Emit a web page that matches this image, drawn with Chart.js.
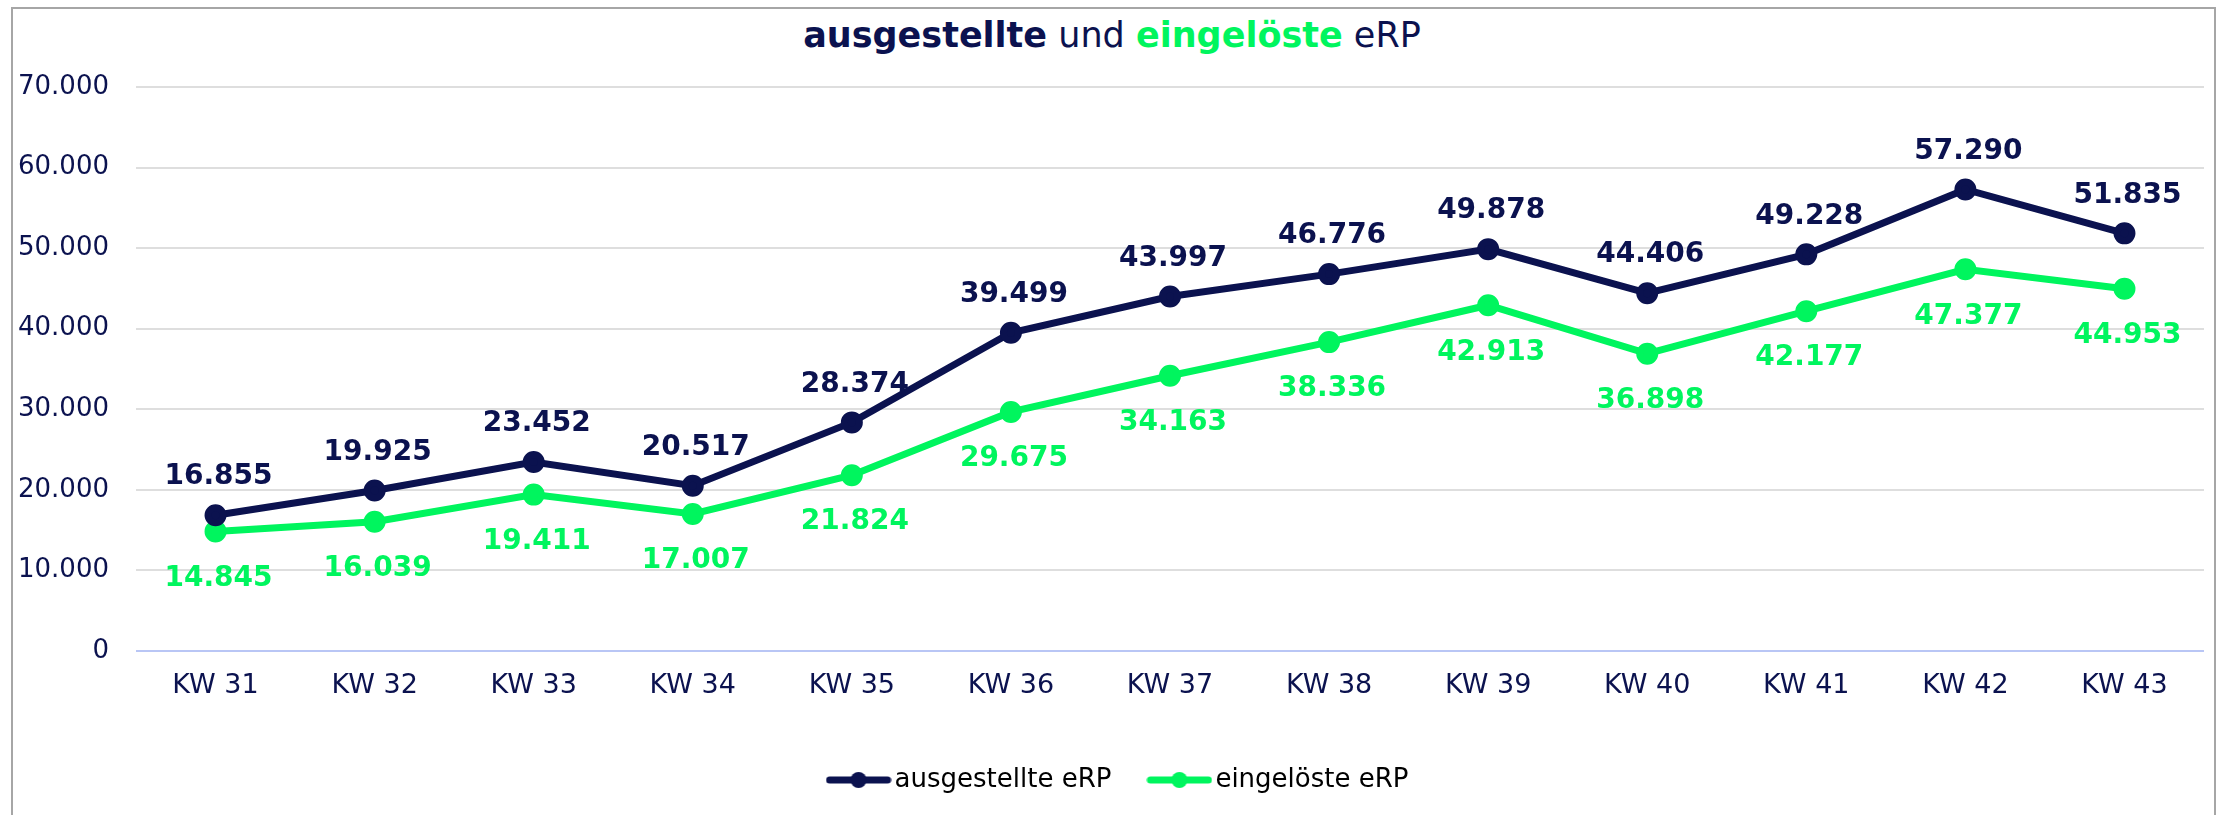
<!DOCTYPE html>
<html>
<head>
<meta charset="utf-8">
<script src="https://cdn.jsdelivr.net/npm/chart.js@4/dist/chart.umd.min.js"></script>
<style>
    html, body { margin: 0; padding: 0; background: #fff; }
    #wrap { position: relative; width: 2224px; height: 815px; overflow: hidden; }
    #frame {
        position: absolute; left: 11px; top: 7px; width: 2205px; height: 900px;
        border: 2px solid #a6a6a6; box-sizing: border-box;
    }
    #title {
        position: absolute; left: 0; top: 14px; width: 2224px; text-align: center;
        font-family: "DejaVu Sans", Verdana, sans-serif; font-size: 35px; line-height: 42px;
        color: #0b124f;
    }
    #title .b { font-weight: bold; }
    #title .g { color: #00f55e; }
    #chartBox { position: absolute; left: 0; top: 0; width: 2224px; height: 815px; }
</style>
</head>
<body>
<div id="wrap">
    <div id="frame"></div>
    <div id="title"><span class="b">ausgestellte</span> und <span class="b g">eingelöste</span> eRP</div>
    <div id="chartBox"><canvas id="erpChart"></canvas></div>
</div>
<script>
// Data
const weeks = ['KW 31', 'KW 32', 'KW 33', 'KW 34', 'KW 35', 'KW 36', 'KW 37',
    'KW 38', 'KW 39', 'KW 40', 'KW 41', 'KW 42', 'KW 43'];
const issued = [16855, 19925, 23452, 20517, 28374, 39499, 43997, 46776, 49878, 44406, 49228, 57290, 51835];
const redeemed = [14845, 16039, 19411, 17007, 21824, 29675, 34163, 38336, 42913, 36898, 42177, 47377, 44953];
const yTicks = [0, 10000, 20000, 30000, 40000, 50000, 60000, 70000];

const navy = '#0b124f';
const green = '#00f55e';
const fontFamily = '"DejaVu Sans", Verdana, sans-serif';

// German thousands separator
function fmt(v) {
    return String(v).replace(/\B(?=(\d{3})+(?!\d))/g, '.');
}

// Legend marker: line with a dot in the middle
function legendMarker(color) {
    const c = document.createElement('canvas');
    c.width = 66;
    c.height = 18;
    const ctx = c.getContext('2d');
    ctx.strokeStyle = color;
    ctx.lineWidth = 7;
    ctx.lineCap = 'round';
    ctx.beginPath();
    ctx.moveTo(4, 9);
    ctx.lineTo(62, 9);
    ctx.stroke();
    ctx.fillStyle = color;
    ctx.beginPath();
    ctx.arc(33, 9, 8, 0, Math.PI * 2);
    ctx.fill();
    return c;
}

// Value labels: navy above, green below
const valueLabels = {
    id: 'valueLabels',
    afterDatasetsDraw(chart) {
        const ctx = chart.ctx;
        ctx.save();
        ctx.font = 'bold 28px ' + fontFamily;
        ctx.textAlign = 'center';
        ctx.textBaseline = 'middle';
        chart.data.datasets.forEach((ds, i) => {
            const meta = chart.getDatasetMeta(i);
            ctx.fillStyle = ds.borderColor;
            meta.data.forEach((pt, j) => {
                const dy = i === 0 ? -38 : 47;
                ctx.fillText(fmt(ds.data[j]), pt.x + 3, pt.y + dy);
            });
        });
        ctx.restore();
    }
};

// Nudge the legend a little to the right, as in the original
const legendShift = {
    id: 'legendShift',
    afterLayout(chart) {
        if (chart.legend) {
            chart.legend.left += 20;
            chart.legend.right += 20;
        }
    }
};

document.addEventListener('DOMContentLoaded', function() {
    const ctx = document.getElementById('erpChart').getContext('2d');
    new Chart(ctx, {
        type: 'line',
        data: {
            labels: weeks,
            datasets: [{
                label: 'ausgestellte eRP',
                data: issued,
                borderColor: navy,
                backgroundColor: navy,
                borderWidth: 7,
                pointRadius: 7.5,
                pointHoverRadius: 7.5,
                tension: 0
            }, {
                label: 'eingelöste eRP',
                data: redeemed,
                borderColor: green,
                backgroundColor: green,
                borderWidth: 7,
                pointRadius: 7.5,
                pointHoverRadius: 7.5,
                tension: 0
            }]
        },
        options: {
            responsive: true,
            maintainAspectRatio: false,
            animation: false,
            layout: {
                padding: { top: 87, right: 20, bottom: 12, left: 0 }
            },
            plugins: {
                title: { display: false },
                tooltip: { enabled: false },
                legend: {
                    position: 'bottom',
                    labels: {
                        usePointStyle: true,
                        pointStyleWidth: 46,
                        padding: 45,
                        color: '#000',
                        font: { family: fontFamily, size: 26 },
                        generateLabels(chart) {
                            const items = Chart.defaults.plugins.legend.labels.generateLabels(chart);
                            items.forEach((it, i) => {
                                it.pointStyle = legendMarker(chart.data.datasets[i].borderColor);
                            });
                            return items;
                        }
                    }
                }
            },
            scales: {
                x: {
                    offset: true,
                    grid: { display: false, drawTicks: false },
                    border: { display: false },
                    ticks: {
                        color: navy,
                        padding: 19,
                        font: { family: fontFamily, size: 27 },
                        maxRotation: 0
                    },
                    afterFit(scale) { scale.height = 71; }
                },
                y: {
                    min: 0,
                    max: 70000,
                    border: { display: false },
                    grid: {
                        drawTicks: false,
                        lineWidth: 2,
                        color: c => c.tick && c.tick.value === 0 ? '#b9c6f5' : '#dedede'
                    },
                    afterBuildTicks(scale) {
                        scale.ticks = yTicks.map(v => ({ value: v }));
                    },
                    ticks: {
                        color: navy,
                        padding: 27,
                        font: { family: fontFamily, size: 26 },
                        callback: v => fmt(v)
                    },
                    afterFit(scale) { scale.width = 136; }
                }
            }
        },
        plugins: [valueLabels, legendShift]
    });
});
</script>
</body>
</html>
